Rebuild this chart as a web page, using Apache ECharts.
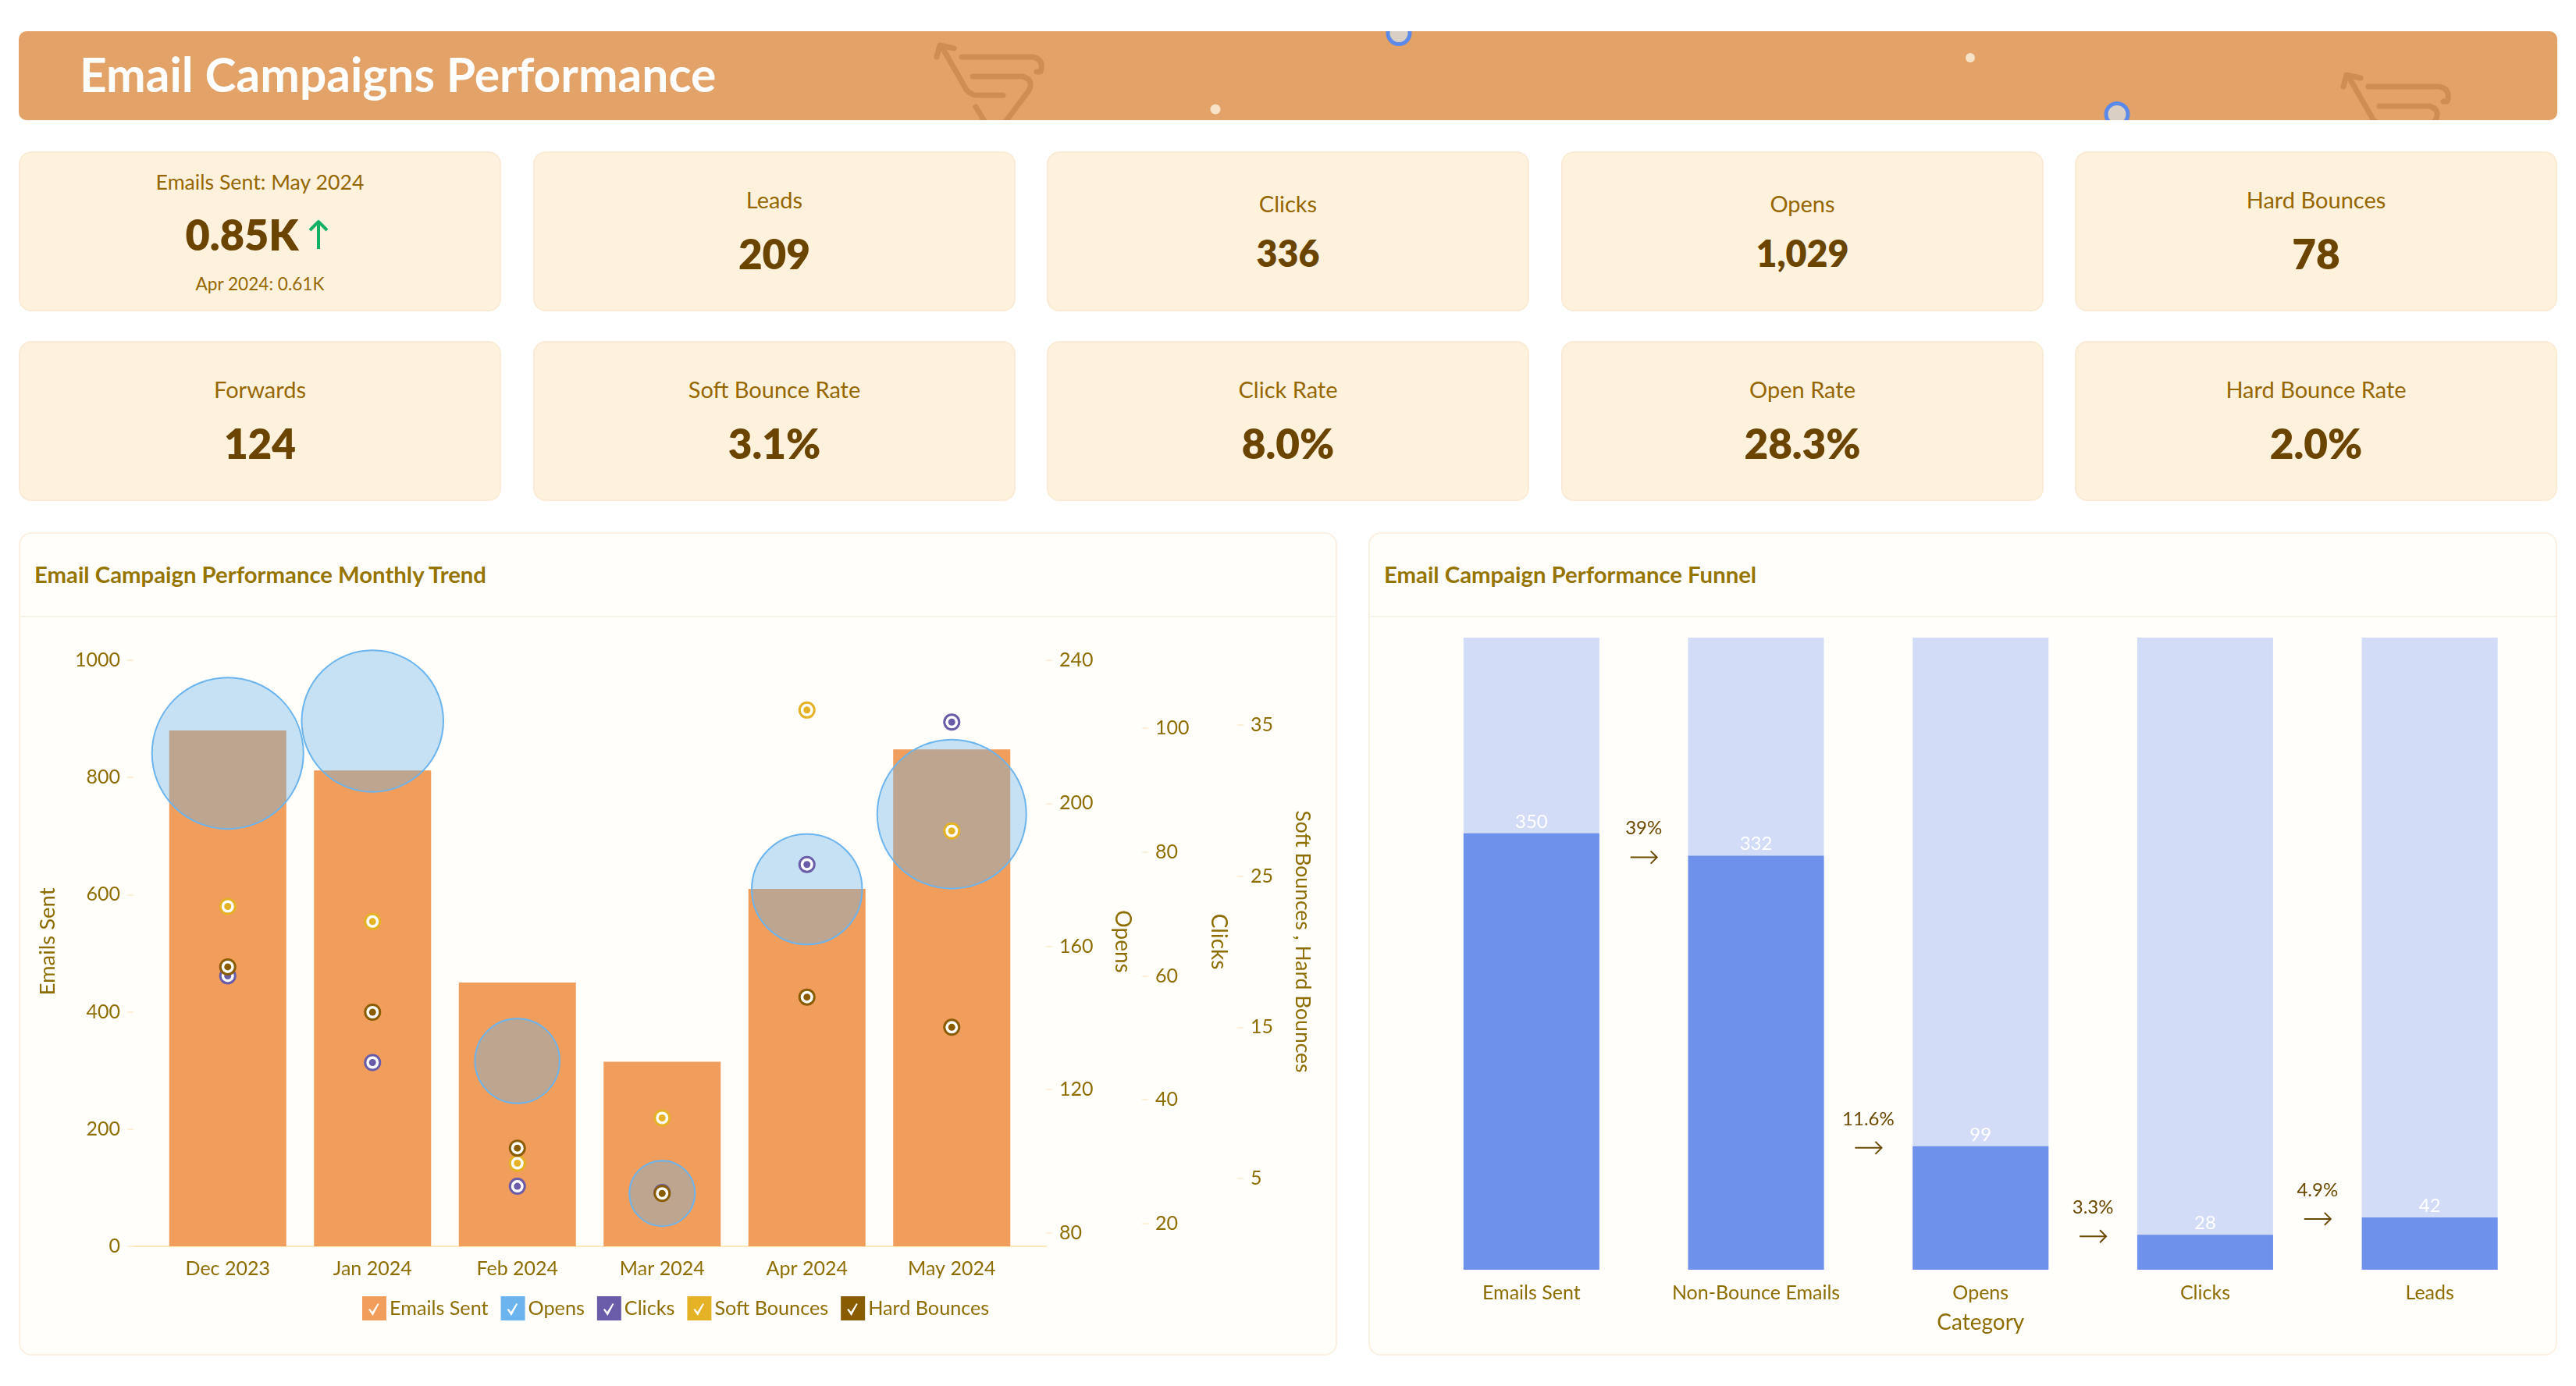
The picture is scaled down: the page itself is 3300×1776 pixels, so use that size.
<!DOCTYPE html>
<html>
<head>
<meta charset="utf-8">
<title>Email Campaigns Performance</title>
<script src="https://cdn.jsdelivr.net/npm/echarts@6/dist/echarts.min.js"></script>
<style>
  html, body { margin: 0; padding: 0; background: #fff; width: 3300px; height: 1776px; overflow: hidden; font-family: Lato, sans-serif; }
  .banner { position: absolute; left: 24px; top: 40px; width: 3252px; height: 114px; background: #e3a268; border-radius: 10px; overflow: hidden; }
  .banner h1 { position: absolute; left: 78px; top: -2px; margin: 0; line-height: 114px; font-size: 60.5px; font-weight: 700; color: #fff; white-space: nowrap; }
  .banner svg { position: absolute; left: 0; top: 0; }
  .card { position: absolute; width: 618px; height: 205px; box-sizing: border-box; background: #fff2dc; border: 2px solid #fbebd6; border-radius: 16px; }
  .card div { position: absolute; left: 0; right: 0; text-align: center; transform: translateY(-50%); white-space: nowrap; }
  .lbl { font-size: 29px; color: #966600; }
  .val { font-size: 53px; font-weight: 800; color: #6b4500; }
  .sub { font-size: 22.6px; color: #966600; }
  .panel { position: absolute; top: 682px; height: 1055px; box-sizing: border-box; background: #fffefa; border: 2px solid #fcf0e2; border-radius: 16px; }
  .panel h2 { position: absolute; top: -2px; left: 18px; margin: 0; line-height: 108px; font-size: 29.3px; font-weight: 700; color: #967400; white-space: nowrap; }
  .panel hr { position: absolute; left: 0; right: 0; top: 105px; margin: 0; border: 0; border-top: 2px solid #f8f4ea; }
  .chart { position: absolute; }
</style>
</head>
<body>
<div class="banner">
  <h1>Email Campaigns Performance</h1>
  <svg width="3252" height="114" fill="none">
    <defs>
      <g id="cart" stroke="#ce8d52" stroke-width="7" stroke-linecap="round" stroke-linejoin="round" fill="none">
        <path d="M20 43 L24 28 L42 32"/>
        <path d="M26 29 L58 85 Q64 92 72 92 L105 92"/>
        <path d="M52 43 L143 43 Q158 46 153 62 L148 62"/>
        <path d="M66 68 L130 68 Q145 72 138 86 L105 130"/>
        <path d="M70 107 L90 140"/>
      </g>
    </defs>
    <use href="#cart" x="1156" y="-10"/>
    <use href="#cart" x="2958" y="28"/>
    <circle cx="1533" cy="100" r="6.5" fill="#f7e4c8"/>
    <circle cx="2500" cy="34" r="6" fill="#f7e4c8"/>
    <circle cx="1768" cy="2.5" r="14" fill="#d9cfc3" stroke="#5b8aeb" stroke-width="5"/>
    <circle cx="2688" cy="106.5" r="14" fill="#d9cfc3" stroke="#5b8aeb" stroke-width="5"/>
  </svg>
</div>
<div id="cards"></div>
<div class="panel" style="left:24px;width:1689px">
  <h2>Email Campaign Performance Monthly Trend</h2><hr>
</div>
<div class="panel" style="left:1753px;width:1523px">
  <h2>Email Campaign Performance Funnel</h2><hr>
</div>
<div id="chart_1" class="chart" style="left:25px;top:790px;width:1688px;height:947px"></div>
<div id="chart_2" class="chart" style="left:1754px;top:790px;width:1521px;height:947px"></div>

<script>
// KPI tiles
const kpiLabels = ["Emails Sent: May 2024", "Leads", "Clicks", "Opens", "Hard Bounces",
                   "Forwards", "Soft Bounce Rate", "Click Rate", "Open Rate", "Hard Bounce Rate"];
const kpiValues = ["0.85K", "209", "336", "1,029", "78", "124", "3.1%", "8.0%", "28.3%", "2.0%"];
const kpiCompare = "Apr 2024: 0.61K";

// monthly trend
const months = ["Dec 2023", "Jan 2024", "Feb 2024", "Mar 2024", "Apr 2024", "May 2024"];
const emailsSent = [880, 812, 450, 315, 610, 848];
const opens = [214, 223, 128, 91, 176, 197];
const clicks = [60, 46, 26, 25, 78, 101];
const softBounces = [23, 22, 6, 9, 36, 28];
const hardBounces = [19, 16, 7, 4, 17, 15];
const forwards = [32, 28, 10, 6, 17, 31];
const opensTicks = [80, 120, 160, 200, 240];
const clicksTicks = [20, 40, 60, 80, 100];
const bounceTicks = [5, 15, 25, 35];

// funnel
const funnelStages = ["Emails Sent", "Non-Bounce Emails", "Opens", "Clicks", "Leads"];
const funnelValues = [350, 332, 99, 28, 42];
const funnelRates = ["39%", "11.6%", "3.3%", "4.9%"];

const AXIS_TEXT = "#8e6d00";
const TICK = "#fdf0d6";
const FONT = "Lato";

// tiles
const cardX = [24, 683, 1341, 2000, 2658];
const cardsEl = document.getElementById("cards");
kpiLabels.forEach((label, i) => {
  const row = Math.floor(i / 5);
  const card = document.createElement("div");
  card.className = "card";
  card.style.left = cardX[i % 5] + "px";
  card.style.top = (row ? 437 : 194) + "px";
  if (i === 0) {
    card.innerHTML = `<div class="lbl" style="top:37px;font-size:26.7px">${label}</div>
      <div class="val" style="top:104px;font-size:54px">${kpiValues[i]}<span style="display:inline-block;width:46px"></span></div>
      <div class="sub" style="top:167px">${kpiCompare}</div>
      <svg style="position:absolute;left:368px;top:85px" width="28" height="40" fill="none" stroke="#12b062" stroke-width="4" stroke-linejoin="round">
        <path d="M14 38 V4 M3 14 L14 3 L25 14"/></svg>`;
  } else {
    const small = i === 2 || i === 3;
    card.innerHTML = `<div class="lbl" style="top:${small ? 64 : 59}px">${label}</div>
      <div class="val" style="top:128px;font-size:${small ? 46.5 : 53}px">${kpiValues[i]}</div>`;
  }
  cardsEl.appendChild(card);
});

const chart = echarts.init(document.getElementById("chart_1"));
const chart2 = echarts.init(document.getElementById("chart_2"));

// ring marker: colour, white band, colour
const renderRing = (params, api) => {
  const p = api.coord([api.value(0), api.value(1)]);
  const color = api.visual("color");
  const circle = (r, fill) => ({ type: "circle", shape: { cx: p[0], cy: p[1], r: r }, style: { fill: fill } });
  return { type: "group", children: [circle(11, color), circle(8, "#fff"), circle(4.5, color)] };
};

const ringSeries = (name, values, color, axis) => ({
  name: name,
  type: "custom",
  coordinateSystem: "cartesian2d",
  yAxisIndex: axis,
  z: 5,
  renderItem: renderRing,
  itemStyle: { color: color },
  encode: { x: 0, y: 1 },
  data: values.map((v, i) => [i, v]),
});

const valueAxis = (name, min, max, ticks, offset, gap, nameSize) => ({
  type: "value",
  position: "right",
  offset: offset,
  min: min,
  max: max,
  name: name,
  nameLocation: "middle",
  nameRotate: -90,
  nameGap: gap,
  nameTextStyle: { color: AXIS_TEXT, fontFamily: FONT, fontSize: nameSize, padding: [0, 30, 0, 0] },
  splitLine: { show: false },
  axisLine: { show: false },
  axisTick: { show: true, length: 8, lineStyle: { color: TICK, width: 2 }, customValues: ticks },
  axisLabel: { color: AXIS_TEXT, fontFamily: FONT, fontSize: 25, margin: 17, padding: [6, 0, 0, 0], customValues: ticks },
});

const checkIcon = "path://M0 0H31V31H0Z M8 17 L13.5 25 L21.5 10 L20 9 L13 20 L10 16 Z";
const legendColors = { "Emails Sent": "#f19d5b", "Opens": "#6cb4ee", "Clicks": "#6a5ca8", "Soft Bounces": "#e4b224", "Hard Bounces": "#8a5c00" };

const options = {
  animation: false,
  textStyle: { fontFamily: FONT },
  grid: { left: 174, top: 56, width: 1113, height: 751 },
  legend: {
    left: 434,
    top: 866,
    itemWidth: 31,
    itemHeight: 31,
    itemGap: 16,
    textStyle: { color: AXIS_TEXT, fontFamily: FONT, fontSize: 25.2, padding: [0, 0, 0, -1] },
    data: Object.keys(legendColors).map((name) => ({
      name: name,
      icon: checkIcon,
      itemStyle: { color: legendColors[name], opacity: 1, borderWidth: 0 },
    })),
  },
  xAxis: {
    type: "category",
    data: months,
    axisLine: { show: false },
    axisTick: { show: false },
    axisLabel: { color: AXIS_TEXT, fontFamily: FONT, fontSize: 25, margin: 16 },
  },
  yAxis: [
    {
      type: "value",
      position: "left",
      offset: 28,
      min: 0,
      max: 1000,
      interval: 200,
      name: "Emails Sent",
      nameLocation: "middle",
      nameRotate: 90,
      nameGap: 96,
      nameTextStyle: { color: AXIS_TEXT, fontFamily: FONT, fontSize: 27.5, padding: [0, 0, 0, 30] },
      splitLine: { show: false },
      axisLine: { show: false },
      axisTick: { show: true, length: 8, lineStyle: { color: TICK, width: 2 } },
      axisLabel: { color: AXIS_TEXT, fontFamily: FONT, fontSize: 25, margin: 17, padding: [6, 0, 0, 0], formatter: (v) => String(v) },
    },
    valueAxis("Opens", 76.2, 240, opensTicks, 28, 84, 28),
    valueAxis("Clicks", 16.3, 111, clicksTicks, 151, 84, 28),
    valueAxis("Soft Bounces , Hard Bounces", 0.5, 39.3, bounceTicks, 273, 70, 26.5),
  ],
  series: [
    {
      name: "Emails Sent",
      type: "bar",
      barWidth: 150,
      itemStyle: { color: "#f19d5b" },
      data: emailsSent,
    },
    {
      name: "Opens",
      type: "scatter",
      yAxisIndex: 1,
      z: 4,
      symbolSize: (value, params) => 34.3 * Math.sqrt(forwards[params.dataIndex]),
      itemStyle: { color: "rgba(105,178,232,0.38)", borderColor: "#6cb4ee", borderWidth: 2, opacity: 1 },
      data: opens,
    },
    ringSeries("Clicks", clicks, "#6a5ca8", 2),
    ringSeries("Soft Bounces", softBounces, "#e4b224", 3),
    ringSeries("Hard Bounces", hardBounces, "#8a5c00", 3),
  ],
  graphic: [
    { type: "line", shape: { x1: 138, y1: 807, x2: 1316, y2: 807 }, style: { stroke: "#ffe8b5", lineWidth: 2 }, z: 0 },
  ],
};
chart.setOption(options);

// arrow + conversion rate between two stages
const renderRate = (params, api) => {
  const next = api.coord([api.value(0), api.value(1)]);
  const x = next[0] - api.size([1, 0])[0] / 2;
  const y = next[1] + 2;
  const ink = "#6b4800";
  return {
    type: "group",
    children: [
      { type: "text", style: { x: x, y: y - 37, text: funnelRates[params.dataIndex], fill: ink, font: "24px Lato", textAlign: "center", textVerticalAlign: "middle" } },
      { type: "polyline", shape: { points: [[x - 17, y], [x + 17, y]] }, style: { stroke: ink, lineWidth: 2, fill: null } },
      { type: "polyline", shape: { points: [[x + 9, y - 8], [x + 17, y], [x + 9, y + 8]] }, style: { stroke: ink, lineWidth: 2, fill: null } },
    ],
  };
};

const option2 = {
  animation: false,
  textStyle: { fontFamily: FONT },
  grid: { left: 64, top: 27, width: 1438.5, height: 810 },
  xAxis: {
    type: "category",
    data: funnelStages,
    name: "Category",
    nameLocation: "middle",
    nameGap: 54,
    nameTextStyle: { color: AXIS_TEXT, fontFamily: FONT, fontSize: 28 },
    axisLine: { show: false },
    axisTick: { show: false },
    axisLabel: { color: AXIS_TEXT, fontFamily: FONT, fontSize: 25, margin: 17 },
  },
  yAxis: { type: "value", min: 0, max: 507, show: false },
  series: [
    {
      type: "bar",
      barWidth: 174,
      showBackground: true,
      backgroundStyle: { color: "#d3dcf7" },
      itemStyle: { color: "#6e91eb" },
      label: { show: true, position: "top", distance: 3, color: "#fff", fontFamily: FONT, fontSize: 24 },
      data: funnelValues,
    },
    {
      type: "custom",
      coordinateSystem: "cartesian2d",
      z: 5,
      renderItem: renderRate,
      encode: { x: 0, y: 1 },
      data: funnelRates.map((rate, i) => [i + 1, funnelValues[i + 1]]),
    },
  ],
};
chart2.setOption(option2);
</script>
</body>
</html>
